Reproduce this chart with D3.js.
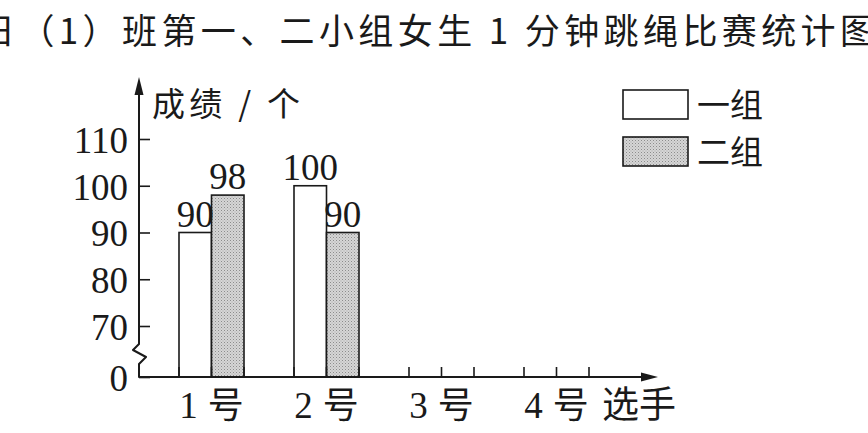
<!DOCTYPE html>
<html>
<head>
<meta charset="utf-8">
<script src="https://cdn.jsdelivr.net/npm/d3@7"></script>
<style>
  body { margin: 0; background: #fff; }
  svg { display: block; }
  .num { font-family: "Liberation Serif", "DejaVu Serif", serif; font-size: 37px; fill: #1a1a1a; }
  .cjk { font-family: "Noto Sans CJK SC", sans-serif; fill: #1a1a1a; }
</style>
</head>
<body>
<div id="chart"></div>
<script>
// data
var title = "日（1）班第一、二小组女生 1 分钟跳绳比赛统计图"
var players = ["1", "2", "3", "4"]
var groups = ["一组", "二组"]
var group1 = [90, 100, null, null]
var group2 = [98, 90, null, null]
var yTicks = [0, 70, 80, 90, 100, 110]

var width = 868, height = 433
var ink = "#1a1a1a"

var svg = d3.select("#chart").append("svg")
    .attr("width", width)
    .attr("height", height)

// stippled grey fill like the printed one
var pat = svg.append("defs").append("pattern")
    .attr("id", "dots")
    .attr("width", 3).attr("height", 3)
    .attr("patternUnits", "userSpaceOnUse")
pat.append("rect").attr("width", 3).attr("height", 3).attr("fill", "#d6d6d6")
pat.append("rect").attr("width", 1).attr("height", 1).attr("fill", "#8c8c8c")
pat.append("rect").attr("x", 1.5).attr("y", 1.5).attr("width", 1).attr("height", 1).attr("fill", "#a8a8a8")

var fills = { "一组": "#fff", "二组": "url(#dots)" }

// broken axis: 0 sits at the baseline, 70..110 above the break
var y = d3.scaleLinear().domain([0, 70, 110]).range([377, 326, 139])
var x0 = 139

var x = d3.scaleBand().domain(players)
    .range([x0, 629])
    .paddingInner(50 / 115)
    .paddingOuter(40 / 115)

var xs = d3.scaleBand().domain(groups).range([0, x.bandwidth()])

var rows = players.map(function (p, i) {
  return { player: p, values: [
    { group: "一组", value: group1[i] },
    { group: "二组", value: group2[i] }
  ] }
})

// title, runs off both edges like the cropped scan
svg.append("text")
    .attr("class", "cjk")
    .attr("x", -20)
    .attr("y", 44)
    .attr("textLength", 895)
    .attr("lengthAdjust", "spacing")
    .style("font-size", "35px")
    .text(title)

// bars
var g = svg.selectAll(".player")
    .data(rows)
    .enter().append("g")
    .attr("class", "player")
    .attr("transform", function (d) { return "translate(" + x(d.player) + ",0)" })

g.selectAll("rect")
    .data(function (d) { return d.values.filter(function (v) { return v.value != null }) })
    .enter().append("rect")
    .attr("x", function (d) { return xs(d.group) })
    .attr("y", function (d) { return y(d.value) })
    .attr("width", xs.bandwidth())
    .attr("height", function (d) { return y(0) - y(d.value) })
    .attr("fill", function (d) { return fills[d.group] })
    .attr("stroke", ink)
    .attr("stroke-width", 1.6)

g.selectAll(".val")
    .data(function (d) { return d.values.filter(function (v) { return v.value != null }) })
    .enter().append("text")
    .attr("class", "num val")
    .attr("text-anchor", "middle")
    .attr("x", function (d) { return xs(d.group) + xs.bandwidth() / 2 })
    .attr("y", function (d) { return y(d.value) - 6 })
    .text(function (d) { return d.value })

// small ticks on the x axis at every bar edge
g.selectAll(".xtick")
    .data([0, xs.bandwidth(), x.bandwidth()])
    .enter().append("line")
    .attr("x1", function (d) { return d }).attr("x2", function (d) { return d })
    .attr("y1", y(0)).attr("y2", y(0) - 10)
    .attr("stroke", ink)
    .attr("stroke-width", 1.6)

// x labels
var xl = g.append("text")
    .attr("x", x.bandwidth() / 2)
    .attr("y", 418)
    .attr("text-anchor", "middle")
xl.append("tspan").attr("class", "num").text(function (d) { return d.player })
xl.append("tspan").attr("class", "cjk").attr("dx", 10).style("font-size", "36px").text("号")

svg.append("text")
    .attr("class", "cjk")
    .attr("x", 602)
    .attr("y", 418)
    .style("font-size", "37px")
    .text("选手")

// y axis ticks and labels
var yAxis = d3.axisLeft(y)
    .tickValues(yTicks)
    .tickSizeInner(-11)
    .tickSizeOuter(0)
    .tickPadding(11)

var ya = svg.append("g")
    .attr("transform", "translate(" + x0 + ",0)")
    .call(yAxis)
ya.select(".domain").remove()
ya.selectAll("line").attr("stroke", ink).attr("stroke-width", 1.6)
ya.selectAll("text")
    .attr("class", "num")
    .attr("dy", "0.36em")
ya.attr("font-size", null).attr("font-family", null)

// axis lines with the break mark
var line = d3.line()
svg.append("path")
    .attr("d", line([[x0, 92], [x0, 344], [x0 - 6, 350], [x0 + 7, 357], [x0, 364], [x0, y(0)], [648, y(0)]]))
    .attr("fill", "none")
    .attr("stroke", ink)
    .attr("stroke-width", 2)
    .attr("stroke-linejoin", "round")

svg.append("path")
    .attr("d", line([[x0, 77], [x0 - 4.5, 95], [x0 + 4.5, 95]]) + "Z")
    .attr("fill", ink)

svg.append("path")
    .attr("d", line([[658, y(0)], [641, y(0) - 4.5], [641, y(0) + 4.5]]) + "Z")
    .attr("fill", ink)

// y axis title
svg.append("text")
    .attr("class", "cjk")
    .attr("x", 152)
    .attr("y", 116)
    .attr("textLength", 148)
    .attr("lengthAdjust", "spacing")
    .style("font-size", "33px")
    .text("成绩 / 个")

// legend
var lg = svg.selectAll(".legend")
    .data(groups)
    .enter().append("g")
    .attr("class", "legend")
    .attr("transform", function (d, i) { return "translate(623," + (90 + i * 47) + ")" })

lg.append("rect")
    .attr("width", 65)
    .attr("height", 29)
    .attr("fill", function (d) { return fills[d] })
    .attr("stroke", ink)
    .attr("stroke-width", 1.6)

lg.append("text")
    .attr("class", "cjk")
    .attr("x", 74)
    .attr("y", 27)
    .style("font-size", "33px")
    .text(function (d) { return d })
</script>
</body>
</html>
